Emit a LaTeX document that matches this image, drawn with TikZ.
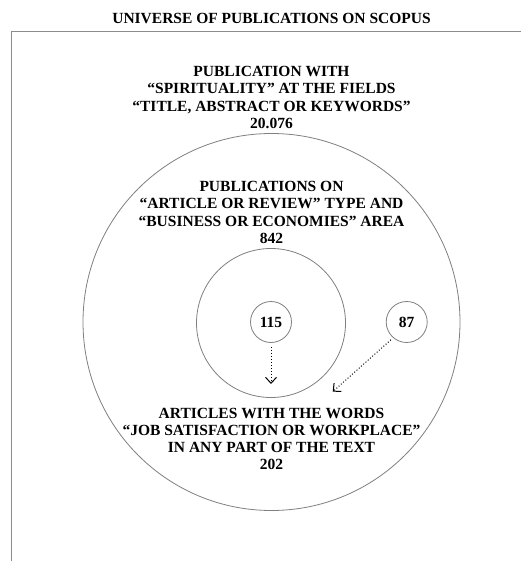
\documentclass[tikz,border=0pt]{standalone}
\usepackage{fontspec}
\setmainfont{Liberation Serif}
\usetikzlibrary{arrows.meta}
\begin{document}
\begin{tikzpicture}[x=1pt,y=-1pt,
  lbl/.style={align=center,font=\fontsize{15.5}{17.2}\selectfont\bfseries,inner sep=0pt},
  ring/.style={draw=black!50,line width=0.8pt},
  numc/.style={circle,draw=black!50,line width=0.8pt,minimum size=41pt,inner sep=0pt,font=\fontsize{15.5}{17}\selectfont\bfseries},
  flow/.style={dotted,line width=1pt,-{Straight Barb[length=6pt,width=11pt,line width=1pt]}}]
\useasboundingbox (0,0) rectangle (521,561);
\fill[white] (0,0) rectangle (521,561);
\draw[draw=black!45,line width=1.2pt] (11.5,561) -- (11.5,31.5) -- (521,31.5);
\node[lbl] (title) at (271.5,18.5) {UNIVERSE OF PUBLICATIONS ON SCOPUS};
\draw[ring] (271.5,322) circle[radius=188.5];
\draw[ring] (271,323) circle[radius=74.5];
\node[lbl] (b1) at (271.5,97.5) {PUBLICATION WITH\\“SPIRITUALITY” AT THE FIELDS\\“TITLE, ABSTRACT OR KEYWORDS”\\20.076};
\node[lbl] (b2) at (271.5,212.5) {PUBLICATIONS ON\\“ARTICLE OR REVIEW” TYPE AND\\“BUSINESS OR ECONOMIES” AREA\\842};
\node[lbl] (b3) at (271.5,439) {ARTICLES WITH THE WORDS\\“JOB SATISFACTION OR WORKPLACE”\\IN ANY PART OF THE TEXT\\202};
\node[numc] (n115) at (271,322) {115};
\node[numc] (n87) at (406.7,322) {87};
\coordinate (t115) at (271,384);
\coordinate (t87) at (332.7,391.7);
\draw[flow] (n115.south) ++(0,4) -- (t115);
\draw[flow] (n87.south west) ++(-1,3) -- (t87);
\end{tikzpicture}
\end{document}
